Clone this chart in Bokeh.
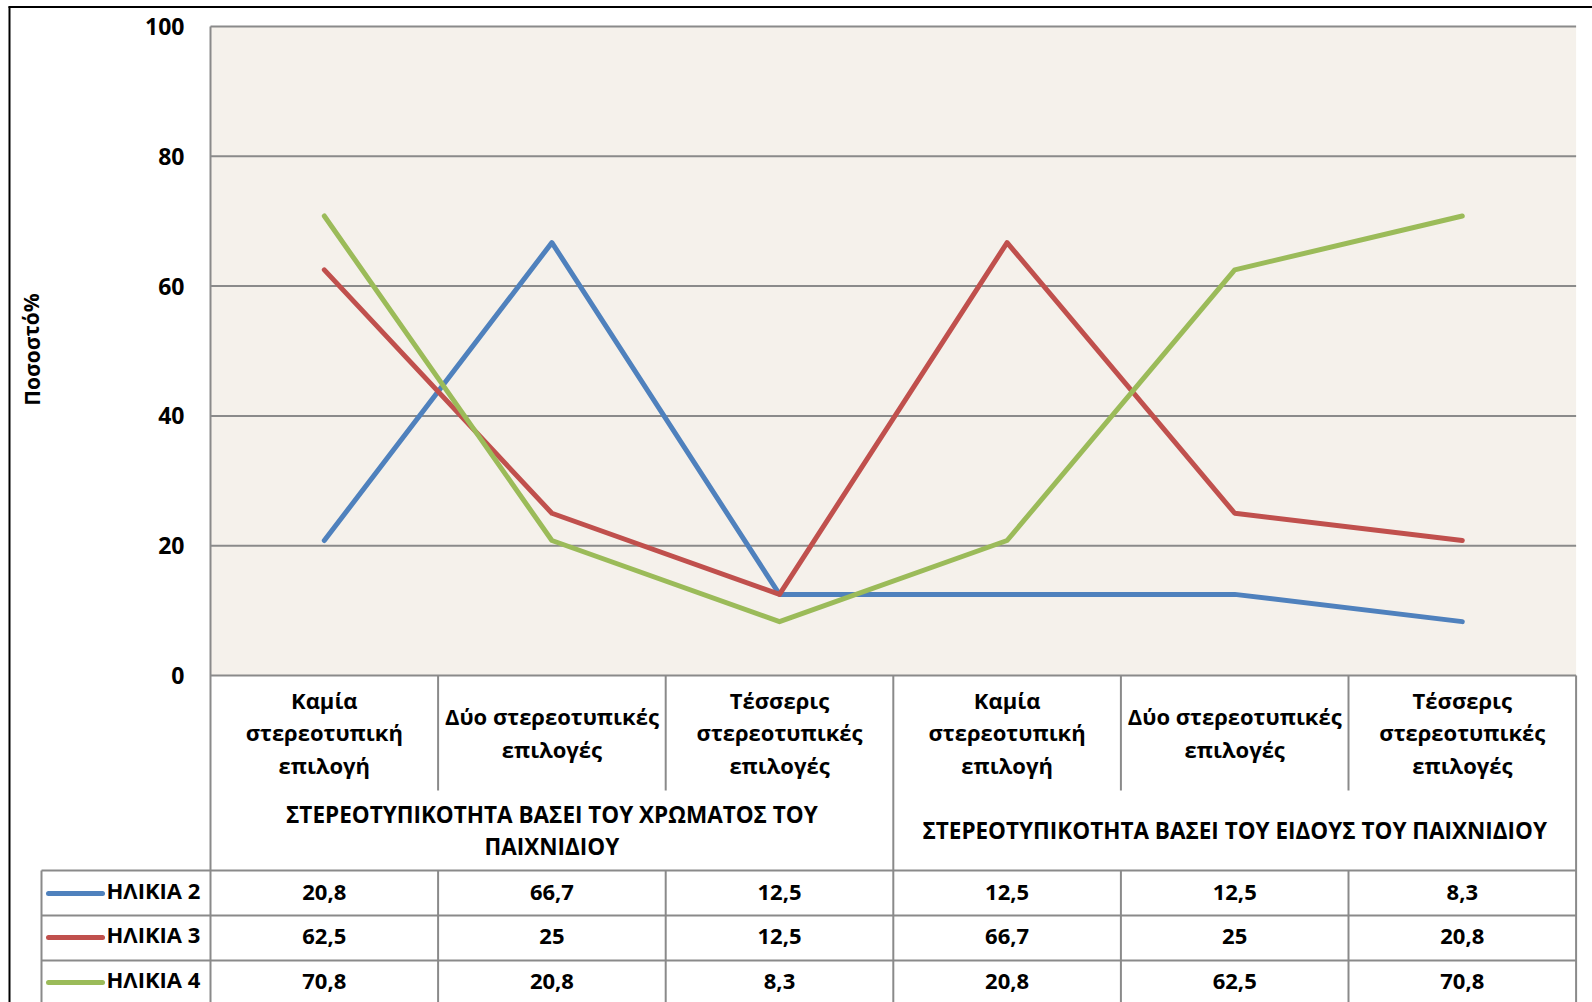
from bokeh.plotting import figure
from bokeh.models import Range1d
from bokeh.core.properties import value
from bokeh.embed import file_html
from bokeh.resources import INLINE

# ---------------- data ----------------
categories = [
    "Καμία\nστερεοτυπική\nεπιλογή",
    "Δύο στερεοτυπικές\nεπιλογές",
    "Τέσσερις\nστερεοτυπικές\nεπιλογές",
    "Καμία\nστερεοτυπική\nεπιλογή",
    "Δύο στερεοτυπικές\nεπιλογές",
    "Τέσσερις\nστερεοτυπικές\nεπιλογές",
]
groups = [
    "ΣΤΕΡΕΟΤΥΠΙΚΟΤΗΤΑ ΒΑΣΕΙ ΤΟΥ ΧΡΩΜΑΤΟΣ ΤΟΥ\nΠΑΙΧΝΙΔΙΟΥ",
    "ΣΤΕΡΕΟΤΥΠΙΚΟΤΗΤΑ ΒΑΣΕΙ ΤΟΥ ΕΙΔΟΥΣ ΤΟΥ ΠΑΙΧΝΙΔΙΟΥ",
]
series_names = ["ΗΛΙΚΙΑ 2", "ΗΛΙΚΙΑ 3", "ΗΛΙΚΙΑ 4"]
age2 = [20.8, 66.7, 12.5, 12.5, 12.5, 8.3]
age3 = [62.5, 25, 12.5, 66.7, 25, 20.8]
age4 = [70.8, 20.8, 8.3, 20.8, 62.5, 70.8]
y_ticks = [0, 20, 40, 60, 80, 100]
y_title = "Ποσοστό%"

series = [age2, age3, age4]
colors = ["#4F81BD", "#C0504D", "#9BBB59"]

# ---------------- layout helpers (canvas pixels -> data units) ----------------
COLW = 227.6
PXU = 6.49


def X(px):
    return (px - 210) / COLW - 0.5


def Y(py):
    return (675 - py) / PXU


W, H = 1592, 1002
FONT = value("Open Sans")
GRID = "#8A8A8A"
n = len(age2)
xs = list(range(n))

p = figure(width=W, height=H, x_range=Range1d(X(0), X(W)),
           y_range=Range1d(Y(H), Y(0)),
           toolbar_location=None, output_backend="svg", min_border=0)
p.axis.visible = False
p.grid.visible = False
p.outline_line_color = None
p.background_fill_color = "white"
p.border_fill_color = "white"

# plot area background
p.quad(left=[-0.5], right=[n - 0.5], bottom=[y_ticks[0]], top=[y_ticks[-1]],
       fill_color="#F5F1EB", line_color=None)

# gridlines
gy = y_ticks[1:]
p.segment(x0=[-0.5] * len(gy), x1=[n - 0.5] * len(gy), y0=gy, y1=gy,
          line_color=GRID, line_width=2)

# table lines
bottom = Y(H)
row_tops = [Y(870), Y(915), Y(960)]
hx0 = [-0.5] + [X(41)] * len(row_tops)
hy = [0] + row_tops
hx1 = [n - 0.5] * len(hy)
p.segment(x0=hx0, x1=hx1, y0=hy, y1=hy, line_color=GRID, line_width=2)

vx, vy0, vy1 = [], [], []
vx.append(-0.5); vy0.append(y_ticks[-1]); vy1.append(bottom)
vx.append(n - 0.5); vy0.append(0); vy1.append(bottom)
vx.append(2.5); vy0.append(0); vy1.append(bottom)
for b in [0.5, 1.5, 3.5, 4.5]:
    vx += [b, b]; vy0 += [0, Y(870)]; vy1 += [Y(790), bottom]
vx.append(X(41)); vy0.append(Y(870)); vy1.append(bottom)
p.segment(x0=vx, x1=vx, y0=vy0, y1=vy1, line_color=GRID, line_width=2)

# outer black frame (top, left)
p.segment(x0=[X(8), X(9)], x1=[X(W), X(9)], y0=[Y(6.5), Y(6)], y1=[Y(6.5), bottom],
          line_color="black", line_width=2)

# series lines
for s, c in zip(series, colors):
    p.line(x=xs, y=s, line_color=c, line_width=5, line_cap="round", line_join="round")

# y tick labels
p.text(x=[X(184)] * len(y_ticks), y=y_ticks, text=[str(t) for t in y_ticks],
       text_font=FONT, text_font_style="bold", text_font_size="23px",
       text_align="right", text_baseline="middle", text_color="black")

# y axis title
p.text(x=[X(31)], y=[Y(349)], text=[y_title], angle=1.5708,
       text_font=FONT, text_font_style="bold", text_font_size="21px",
       text_align="center", text_baseline="middle", text_color="black")

# category row
p.text(x=xs, y=[Y(732)] * n, text=categories,
       text_font=FONT, text_font_style="bold", text_font_size="22px",
       text_align="center", text_baseline="middle", text_line_height=1.07,
       text_color="black")

# group row
p.text(x=[1, 4], y=[Y(830)] * 2, text=groups,
       text_font=FONT, text_font_style="bold", text_font_size="22.5px",
       text_align="center", text_baseline="middle", text_line_height=1.05,
       text_color="black")

# data rows
row_y = [Y(892), Y(936), Y(981)]


def fmt(v):
    return f"{v:g}".replace(".", ",")


for s, c, name, ry in zip(series, colors, series_names, row_y):
    p.text(x=xs, y=[ry] * n, text=[fmt(v) for v in s],
           text_font=FONT, text_font_style="bold", text_font_size="22px",
           text_align="center", text_baseline="middle", text_color="black")
    p.segment(x0=[X(48)], x1=[X(102)], y0=[ry - 0.15], y1=[ry - 0.15], line_color=c,
              line_width=5, line_cap="round")
    p.text(x=[X(106)], y=[ry + 0.4], text=[name],
           text_font=FONT, text_font_style="bold", text_font_size="22px",
           text_align="left", text_baseline="middle", text_color="black")

open("out.html", "w").write(file_html(p, INLINE))
